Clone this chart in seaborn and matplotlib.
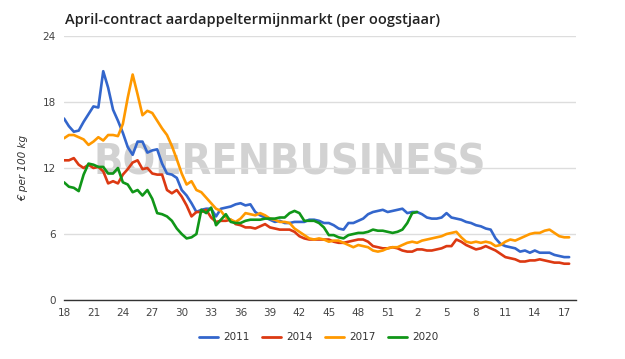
import numpy as np
import pandas as pd
import matplotlib
matplotlib.use("Agg")
import matplotlib.pyplot as plt
import seaborn as sns

# ─────────────────────────────────────────
# Data: prices in € per 100 kg, one value per half week from week 18
# ─────────────────────────────────────────
tick_labels = ['18', '21', '24', '27', '30', '33', '36', '39', '42', '45',
               '48', '51', '2', '5', '8', '11', '14', '17']
years = ['2011', '2014', '2017', '2020']

p2011 = [16.5, 15.8, 15.3, 15.4, 16.2, 16.9, 17.6, 17.5, 20.8, 19.3,
         17.3, 16.3, 15.2, 13.9, 13.2, 14.4, 14.4, 13.4, 13.6, 13.7,
         12.4, 11.5, 11.4, 11.1, 10.0, 9.5, 8.8, 8.0, 8.2, 8.3,
         8.3, 7.6, 8.3, 8.4, 8.5, 8.7, 8.8, 8.6, 8.7, 8.0,
         7.7, 7.5, 7.3, 7.1, 7.2, 7.0, 7.0, 7.1, 7.1, 7.1,
         7.3, 7.3, 7.2, 7.0, 7.0, 6.8, 6.5, 6.4, 7.0, 7.0,
         7.2, 7.4, 7.8, 8.0, 8.1, 8.2, 8.0, 8.1, 8.2, 8.3,
         7.9, 8.0, 8.0, 7.8, 7.5, 7.4, 7.4, 7.5, 7.9, 7.5,
         7.4, 7.3, 7.1, 7.0, 6.8, 6.7, 6.5, 6.4, 5.6, 5.1,
         4.9, 4.8, 4.7, 4.4, 4.5, 4.3, 4.5, 4.3, 4.3, 4.3,
         4.1, 4.0, 3.9, 3.9]

p2014 = [12.7, 12.7, 12.9, 12.3, 12.0, 12.3, 12.0, 12.1, 11.7, 10.6,
         10.8, 10.6, 11.4, 11.9, 12.5, 12.7, 11.9, 12.0, 11.5, 11.4,
         11.4, 10.0, 9.7, 10.0, 9.4, 8.6, 7.6, 8.0, 8.0, 8.2,
         7.5, 7.1, 7.2, 7.2, 7.3, 6.9, 6.8, 6.6, 6.6, 6.5,
         6.7, 6.9, 6.6, 6.5, 6.4, 6.4, 6.4, 6.2, 5.8, 5.6,
         5.5, 5.5, 5.5, 5.5, 5.5, 5.3, 5.2, 5.2, 5.3, 5.4,
         5.5, 5.5, 5.3, 4.9, 4.8, 4.7, 4.7, 4.8, 4.7, 4.5,
         4.4, 4.4, 4.6, 4.6, 4.5, 4.5, 4.6, 4.7, 4.9, 4.9,
         5.5, 5.3, 5.0, 4.8, 4.6, 4.7, 4.9, 4.7, 4.5, 4.2,
         3.9, 3.8, 3.7, 3.5, 3.5, 3.6, 3.6, 3.7, 3.6, 3.5,
         3.4, 3.4, 3.3, 3.3]

p2017 = [14.7, 15.0, 15.0, 14.8, 14.6, 14.1, 14.4, 14.8, 14.5, 15.0,
         15.0, 14.9, 16.0, 18.4, 20.5, 18.7, 16.8, 17.2, 17.0, 16.3,
         15.6, 15.0, 14.0, 12.8, 11.5, 10.5, 10.8, 10.0, 9.8, 9.3,
         8.8, 8.3, 8.1, 7.5, 7.3, 7.1, 7.4, 7.9, 7.8, 7.7,
         7.9, 7.7, 7.4, 7.3, 7.1, 7.1, 7.0, 6.5, 6.2, 5.9,
         5.6, 5.5, 5.6, 5.5, 5.3, 5.4, 5.4, 5.2, 5.0, 4.8,
         5.0, 4.9, 4.8, 4.5, 4.4, 4.5, 4.7, 4.8, 4.8, 5.0,
         5.2, 5.3, 5.2, 5.4, 5.5, 5.6, 5.7, 5.8, 6.0, 6.1,
         6.2, 5.7, 5.3, 5.2, 5.3, 5.2, 5.3, 5.2, 4.9, 5.0,
         5.3, 5.5, 5.4, 5.6, 5.8, 6.0, 6.1, 6.1, 6.3, 6.4,
         6.1, 5.8, 5.7, 5.7]

p2020 = [10.7, 10.3, 10.2, 9.9, 11.4, 12.4, 12.3, 12.1, 12.1, 11.5,
         11.5, 12.0, 10.7, 10.5, 9.8, 10.0, 9.5, 10.0, 9.2, 7.9,
         7.8, 7.6, 7.2, 6.5, 6.0, 5.6, 5.7, 6.0, 8.2, 7.9,
         8.4, 6.8, 7.3, 7.8, 7.1, 7.0, 7.0, 7.2, 7.3, 7.3,
         7.3, 7.4, 7.4, 7.4, 7.5, 7.5, 7.9, 8.1, 7.9, 7.2,
         7.2, 7.2, 7.0, 6.6, 5.9, 5.9, 5.7, 5.6, 5.9, 6.0,
         6.1, 6.1, 6.2, 6.4, 6.3, 6.3, 6.2, 6.1, 6.2, 6.4,
         7.0, 7.9, 8.0]

colors = ['#3366cc', '#dc3912', '#ff9900', '#109618']

# long format for seaborn
frames = []
for year, vals in zip(years, [p2011, p2014, p2017, p2020]):
    frames.append(pd.DataFrame({'week': np.arange(len(vals)) * 0.5,
                                'price': vals, 'year': year}))
df = pd.concat(frames, ignore_index=True)

# ─────────────────────────────────────────
# Plot
# ─────────────────────────────────────────
sns.set_style('white')
plt.rcParams['font.family'] = ['DejaVu Sans']

fig = plt.figure(figsize=(6.25, 3.59), dpi=100)
ax = fig.add_axes([0.1024, 0.1643, 0.8192, 0.7354])

# watermark behind the lines
ax.text(0.44, 0.52, 'BOERENBUSINESS', transform=ax.transAxes,
        ha='center', va='center', fontsize=31, fontweight='bold',
        fontstretch='condensed', family='DejaVu Sans',
        color='#d2d2d2', zorder=0)

sns.lineplot(data=df, x='week', y='price', hue='year', palette=colors,
             linewidth=1.9, ax=ax, legend=False, zorder=3)

ax.set_xlim(0, 52.2)
ax.set_ylim(0, 24)
ax.set_yticks([0, 6, 12, 18, 24])
ax.set_xticks(np.arange(len(tick_labels)) * 3)
ax.set_xticklabels(tick_labels)
ax.tick_params(length=0, labelsize=7.5, labelcolor='#444444', pad=6)
ax.grid(axis='y', color='#dddddd', linewidth=1)
ax.set_axisbelow(True)
for s in ['top', 'right', 'left']:
    ax.spines[s].set_visible(False)
ax.spines['bottom'].set_color('#333333')
ax.spines['bottom'].set_linewidth(1)
ax.set_xlabel('')
ax.set_ylabel('€ per 100 kg', fontsize=7.5, style='italic', color='#333333',
              labelpad=10)

# legend at bottom
handles = [plt.Line2D([], [], color=c, linewidth=2) for c in colors]
fig.legend(handles, years, loc='center', bbox_to_anchor=(0.51, 0.06),
           ncol=4, frameon=False, fontsize=7.5, handlelength=1.8,
           columnspacing=1.2, handletextpad=0.5, labelcolor='#333333')

fig.text(65 / 625, 1 - 20 / 359, 'April-contract aardappeltermijnmarkt (per oogstjaar)',
         fontsize=10.5, fontweight='semibold', color='#222222', va='center',
         family=['Open Sans', 'DejaVu Sans'])

plt.savefig('out.png', dpi=100)
